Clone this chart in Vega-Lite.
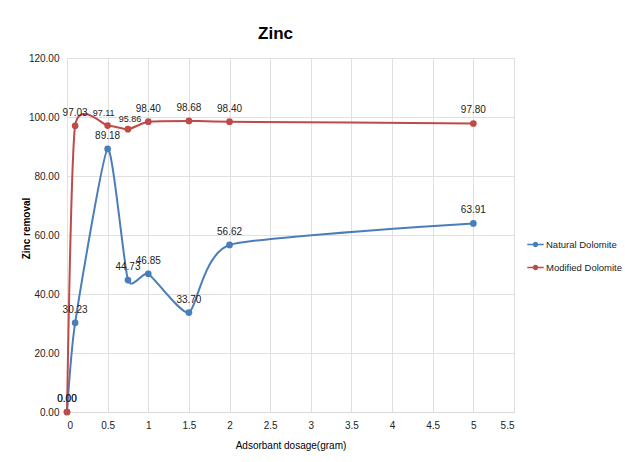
{
  "$schema": "https://vega.github.io/schema/vega-lite/v6.json",
  "autosize": "none",
  "width": 447,
  "height": 354,
  "padding": {"left": 67, "top": 58, "right": 111, "bottom": 50},
  "background": "white",
  "title": {"text": "Zinc", "fontSize": 17, "font": "Liberation Sans", "fontWeight": "bold", "color": "#000000", "anchor": "middle", "dx": -15, "offset": 10},
  "config": {
    "font": "Liberation Sans",
    "view": {"stroke": "#d9d9d9"},
    "axis": {"gridColor": "#e0e0e0", "domainColor": "#d9d9d9", "tickColor": "#d9d9d9", "labelColor": "#222", "titleColor": "#000", "labelFontSize": 10, "titleFontSize": 10, "labelFont": "Liberation Sans", "titleFont": "Liberation Sans"}
  },
  "data": {"values": [
    {"x": 0, "y": 0, "series": "Natural Dolomite"},
    {"x": 0.1, "y": 30.23, "series": "Natural Dolomite"},
    {"x": 0.5, "y": 89.18, "series": "Natural Dolomite"},
    {"x": 0.75, "y": 44.73, "series": "Natural Dolomite"},
    {"x": 1, "y": 46.85, "series": "Natural Dolomite"},
    {"x": 1.5, "y": 33.70, "series": "Natural Dolomite"},
    {"x": 2, "y": 56.62, "series": "Natural Dolomite"},
    {"x": 5, "y": 63.91, "series": "Natural Dolomite"},
    {"x": 0, "y": 0, "series": "Modified Dolomite"},
    {"x": 0.1, "y": 97.03, "series": "Modified Dolomite"},
    {"x": 0.5, "y": 97.11, "series": "Modified Dolomite"},
    {"x": 0.75, "y": 95.86, "series": "Modified Dolomite"},
    {"x": 1, "y": 98.40, "series": "Modified Dolomite"},
    {"x": 1.5, "y": 98.68, "series": "Modified Dolomite"},
    {"x": 2, "y": 98.40, "series": "Modified Dolomite"},
    {"x": 5, "y": 97.80, "series": "Modified Dolomite"}
  ]},
  "encoding": {
    "x": {"field": "x", "type": "quantitative", "scale": {"domain": [0, 5.5], "nice": false},
      "axis": {"title": "Adsorbant dosage(gram)", "values": [0,0.5,1,1.5,2,2.5,3,3.5,4,4.5,5,5.5], "format": "~g", "ticks": false, "labelPadding": 8, "titleFontWeight": "normal", "titlePadding": 10}},
    "y": {"field": "y", "type": "quantitative", "scale": {"domain": [0, 120], "nice": false},
      "axis": {"title": "Zinc removal", "values": [0,20,40,60,80,100,120], "format": ".2f", "ticks": false, "labelPadding": 8, "domain": false, "titleFontWeight": "bold", "titleX": -36, "titleY": 170}},
    "color": {"field": "series", "type": "nominal",
      "scale": {"domain": ["Natural Dolomite", "Modified Dolomite"], "range": ["#4A7EBB", "#BE4B48"]},
      "legend": {"title": null, "orient": "none", "legendX": 462, "legendY": 180, "labelFontSize": 9.5, "labelColor": "#222", "rowPadding": 11,
        "symbolType": "M-1.5,0L1.5,0M-0.35,0A0.35,0.35 0 1,1 0.35,0A0.35,0.35 0 1,1 -0.35,0Z", "symbolSize": 120, "symbolStrokeWidth": 1.5,
        "encode": {"symbols": {"update": {"stroke": {"field": "value", "scale": "color"}, "fill": {"field": "value", "scale": "color"}}}}}}
  },
  "layer": [
    {"mark": {"type": "line", "interpolate": "cardinal", "tension": 0.45, "strokeWidth": 2}},
    {"mark": {"type": "point", "filled": true, "size": 45, "opacity": 1}},
    {"transform": [{"filter": "!(datum.series == 'Modified Dolomite' && (datum.x == 0.5 || datum.x == 0.75))"}],
      "mark": {"type": "text", "dy": -13, "fontSize": 10, "color": "#222"},
      "encoding": {"text": {"field": "y", "type": "quantitative", "format": ".2f"}, "color": {"value": "#222"}}},
    {"transform": [{"filter": "datum.series == 'Modified Dolomite' && datum.x == 0.5"}],
      "mark": {"type": "text", "dy": -13, "dx": -4, "fontSize": 9, "color": "#222"},
      "encoding": {"text": {"field": "y", "type": "quantitative", "format": ".2f"}, "color": {"value": "#222"}}},
    {"transform": [{"filter": "datum.series == 'Modified Dolomite' && datum.x == 0.75"}],
      "mark": {"type": "text", "dy": -10, "dx": 2, "fontSize": 9, "color": "#222"},
      "encoding": {"text": {"field": "y", "type": "quantitative", "format": ".2f"}, "color": {"value": "#222"}}}
  ]
}
